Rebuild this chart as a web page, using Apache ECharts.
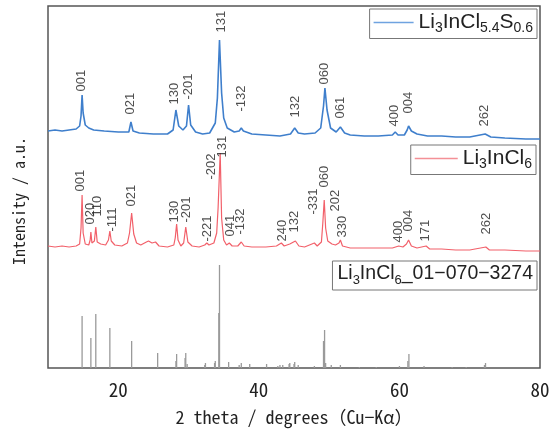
<!DOCTYPE html>
<html>
<head>
<meta charset="utf-8">
<script src="https://cdn.jsdelivr.net/npm/echarts@6/dist/echarts.min.js"></script>
<style>
html, body { margin: 0; padding: 0; background: #fff; }
#xrd { width: 553px; height: 432px; }
</style>
</head>
<body>
<div id="xrd"></div>
<script>
// 2theta (deg), intensity (a.u., curves stacked with offsets as in the figure)
var blueCurve = [
  [10,237],[11,238],[12,237],[13,238],[14,239],[14.5,242],[14.7,252],[14.85,273],[15.0,255],[15.3,243],[15.8,240],
  [16.5,238],[18,237],[20,236],[21.5,236],[21.8,246],[22.1,237],[23,235],[25,234],[27,234],[27.8,238],[28.2,258],
  [28.6,242],[29.2,238],[29.7,242],[30.0,263],[30.3,243],[31,236],[32,234],[33,235],[33.8,245],[34.1,270],[34.4,328],
  [34.7,275],[35.0,250],[35.5,240],[36.5,236],[37.2,237],[37.5,240],[37.8,237],[39,234],[41,233],[43,232],[44.5,234],
  [45.1,240],[45.6,235],[46.5,234],[48,235],[48.8,240],[49.2,262],[49.4,280],[49.7,258],[50.2,240],[51.0,236],[51.6,241],
  [52.2,235],[53,233],[55,232],[57,232],[59,233],[59.4,236],[59.8,233],[60.7,233],[61.1,238],[61.3,242],[61.7,237],
  [62.5,234],[64,232],[66,232],[68,231],[70,231],[72.2,234],[73,231],[75,230],[78,229],[80,229]
];
var redCurve = [
  [10,122],[11,121],[12,122],[13,121],[14,122],[14.5,124],[14.7,140],[14.85,173],[15.0,135],[15.3,124],[15.8,123],
  [16.0,128],[16.1,136],[16.25,125],[16.6,127],[16.8,141],[17.0,126],[17.5,124],[18.2,123],[18.6,128],[18.8,137],
  [19.0,127],[19.5,123],[20.5,122],[21.3,125],[21.6,135],[21.9,155],[22.2,134],[22.6,125],[23.2,123],[24.0,126],
  [24.3,127],[24.8,125],[25.3,126],[25.8,122],[27,121],[27.9,123],[28.1,130],[28.3,144],[28.5,128],[28.9,122],
  [29.3,125],[29.6,141],[29.9,126],[30.5,122],[31.5,121],[32.3,123],[32.6,125],[32.9,123],[33.6,125],[34.0,135],
  [34.2,160],[34.5,215],[34.7,150],[35.0,128],[35.4,123],[35.8,125],[36.2,122],[37.0,122],[37.5,126],[37.9,122],
  [39,121],[41,121],[42.5,122],[43.2,125],[43.6,122],[44.4,124],[45.2,127],[45.7,122],[46.5,121],[47.9,125],
  [48.3,122],[48.9,126],[49.1,145],[49.3,168],[49.5,140],[49.8,127],[50.4,124],[50.9,123],[51.4,125],[51.6,128],
  [51.9,122],[53,120],[55,120],[57,120],[59,120],[59.9,122],[60.5,121],[61.0,124],[61.3,128],[61.7,122],[62.5,120],
  [63.8,122],[64.3,119],[66,119],[68,118],[70,118],[72.3,121],[72.8,118],[75,118],[78,117],[80,117]
];
// reference card sticks
var refSticks = [
  [14.85,52],[16.1,30],[16.8,54],[18.8,40],[21.9,27],[25.6,15],[28.2,7],[28.3,14],[29.5,10],[29.6,15],[29.8,4],
  [32.3,3],[32.4,5],[33.7,5],[33.8,7],[34.3,55],[34.4,103],[35.7,6],[37.2,3],[37.5,5],[38.7,4],[41.1,4],[42.7,2],
  [43.0,3],[43.4,3],[44.3,4],[44.4,5],[45.0,4],[45.1,6],[45.6,3],[47.9,2],[49.2,27],[49.35,38],[49.5,5],[50.3,3],
  [51.6,3],[54.3,1],[56.7,1],[60.0,2],[61.2,7],[61.35,14],[63.5,2],[67.5,1],[69.5,1],[72.1,3],[72.25,5]
];
// hkl labels: [2theta, label bottom, text]
var blueLabels = [
  [14.85,276,'001'],[21.8,253,'021'],[28.1,263,'130'],[30.0,268,'-201'],[34.7,335,'131'],[37.6,256,'-132'],
  [45.3,250,'132'],[49.4,283,'060'],[51.7,249,'061'],[59.4,241,'400'],[61.4,254,'004'],[72.2,241,'262']
];
var redLabels = [
  [14.7,176,'001'],[16.1,143,'020'],[17.1,151,'110'],[19.2,136,'-111'],[22.0,161,'021'],[28.1,145,'130'],
  [29.7,145,'-201'],[32.8,126,'-221'],[33.3,188,'-202'],[34.9,210,'131'],[36.0,131,'041'],[37.5,133,'-132'],
  [43.4,126,'240'],[45.1,135,'132'],[47.9,153,'-331'],[49.4,180,'060'],[50.9,156,'202'],[51.9,130,'330'],
  [59.9,125,'400'],[61.4,136,'004'],[63.7,126,'171'],[72.4,133,'262']
];
var xTicks = [20, 40, 60, 80];

var names = ['Li3InCl5.4S0.6', 'Li3InCl6', 'Li3InCl6_01-070-3274'];
var legendText = {
  'Li3InCl5.4S0.6': '{n|Li}{s|3}{n|InCl}{s|5.4}{n|S}{s|0.6}',
  'Li3InCl6': '{n|Li}{s|3}{n|InCl}{s|6}',
  'Li3InCl6_01-070-3274': '{m|Li}{t|3}{m|InCl}{t|6}{m|_01−070−3274}'
};
var jpFont = '"Noto Sans Mono CJK JP", "Noto Sans CJK JP", sans-serif';

var chart = echarts.init(document.getElementById('xrd'));

var legendTextStyle = {
  color: '#222',
  rich: {
    n: { fontSize: 21, lineHeight: 26, fontFamily: 'Liberation Sans', color: '#222' },
    s: { fontSize: 14, verticalAlign: 'bottom', fontFamily: 'Liberation Sans', color: '#222' },
    m: { fontSize: 19.5, lineHeight: 26, fontFamily: 'Liberation Sans', color: '#222' },
    t: { fontSize: 13, verticalAlign: 'bottom', fontFamily: 'Liberation Sans', color: '#222' }
  }
};
function makeLegend(name, right, top, w, pad) {
  return {
    data: [name],
    right: right,
    top: top,
    selectedMode: false,
    borderColor: '#777',
    borderWidth: 1,
    padding: pad,
    icon: 'rect',
    itemWidth: w,
    itemHeight: 1.5,
    formatter: function (n) { return legendText[n]; },
    textStyle: legendTextStyle
  };
}

function labelSeries(data) {
  return {
    type: 'scatter',
    data: data,
    symbolSize: 1,
    itemStyle: { color: 'rgba(0,0,0,0)' },
    silent: true,
    z: 5,
    label: {
      show: true,
      position: [0, 0],
      rotate: 90,
      align: 'left',
      verticalAlign: 'middle',
      fontSize: 13,
      fontFamily: 'Liberation Sans',
      color: '#222',
      formatter: function (p) { return p.value[2]; }
    }
  };
}

var option = {
  animation: false,
  backgroundColor: '#fff',
  grid: {
    left: 48, right: 13, top: 6, bottom: 64,
    show: true, borderColor: '#555', borderWidth: 1.5
  },
  legend: [
    makeLegend(names[0], 16, 9, 40, [3, 4, 3, 4]),
    makeLegend(names[1], 17, 145, 43, [3, 4, 3, 4]),
    makeLegend(names[2], 16, 261, 0, [3, 4, 3, 0])
  ],
  xAxis: {
    type: 'value',
    min: 10, max: 80, interval: 10,
    axisLine: { show: false },
    axisTick: { show: false },
    splitLine: { show: false },
    axisLabel: {
      fontSize: 19, color: '#222', margin: 12,
      fontFamily: jpFont,
      formatter: function (v) { return xTicks.indexOf(v) >= 0 ? String(v) : ''; }
    },
    name: '2 theta / degrees（Cu−Kα）',
    nameLocation: 'middle',
    nameGap: 40,
    nameTextStyle: { fontSize: 18, color: '#222', fontFamily: jpFont }
  },
  yAxis: {
    type: 'value',
    min: 0, max: 362,
    axisLine: { show: false },
    axisTick: { show: false },
    axisLabel: { show: false },
    splitLine: { show: false },
    name: 'Intensity / a.u.',
    nameLocation: 'middle',
    nameGap: 21,
    nameTextStyle: { fontSize: 16, color: '#222', fontFamily: jpFont, padding: [0, 28, 0, 0] }
  },
  series: [
    {
      name: names[0], type: 'line', data: blueCurve, showSymbol: false,
      lineStyle: { color: '#3f7fcc', width: 1.6 }, itemStyle: { color: '#6fa3e0' }
    },
    {
      name: names[1], type: 'line', data: redCurve, showSymbol: false,
      lineStyle: { color: '#f2606a', width: 1.2 }, itemStyle: { color: '#f49096' }
    },
    {
      name: names[2], type: 'bar', data: refSticks, barWidth: 1.3,
      itemStyle: { color: '#9a9a9a' }
    },
    labelSeries(blueLabels),
    labelSeries(redLabels)
  ]
};
chart.setOption(option);
</script>
</body>
</html>
